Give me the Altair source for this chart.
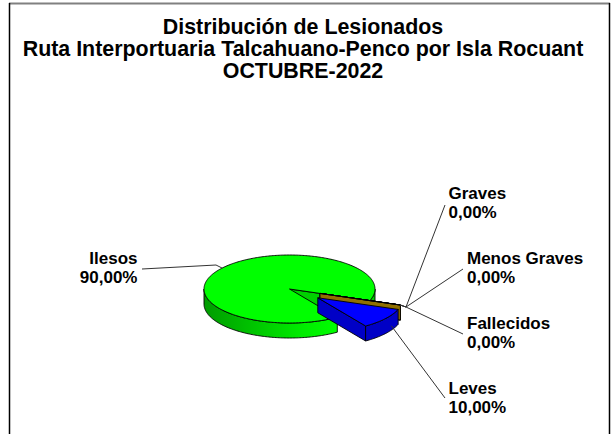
import math
import altair as alt
import pandas as pd

# ---------------- data ----------------
categorias = ["Leves", "Ilesos", "Graves", "Menos Graves", "Fallecidos"]
porcentajes = [10.0, 90.0, 0.0, 0.0, 0.0]
titulo = ["Distribución de Lesionados",
          "Ruta Interportuaria Talcahuano-Penco por Isla Rocuant",
          "OCTUBRE-2022"]

# ---------------- layout / style ----------------
W, H = 614, 434
CX, CY = 289.5, 289.0          # centre of the top ellipse
RA, RB, DEPTH = 85.5, 34.0, 15.0
START = 20.0                   # first slice start angle (deg, clockwise from east)
EXPLODE = {"Leves": 0.42, "Ilesos": 0.0, "Graves": 0.38,
           "Menos Graves": 0.38, "Fallecidos": 0.38}
TOP_COLOR = {"Leves": "#0000FF", "Ilesos": "#00FF00", "Graves": "#B08A00",
             "Menos Graves": "#A88200", "Fallecidos": "#9C7800"}
SIDE_COLOR = {"Leves": "#0000C6", "Ilesos": "#00D000", "Graves": "#A07C00",
              "Menos Graves": "#9A7800", "Fallecidos": "#907000"}
DRAW_ORDER = ["Ilesos", "Graves", "Menos Graves", "Fallecidos", "Leves"]

LABEL_POS = {  # x, baseline of first line, align
    "Ilesos": (137.5, 263.5, "right"),
    "Graves": (448.5, 198.5, "left"),
    "Menos Graves": (467.0, 263.5, "left"),
    "Fallecidos": (467.0, 328.5, "left"),
    "Leves": (448.5, 393.5, "left"),
}
LINE_GAP = 19.0
LEADER = {  # points from label side towards the slice
    "Ilesos": [(142, 269), (216, 265)],
    "Graves": [(445, 205), (406, 307)],
    "Menos Graves": [(463, 269), (406, 307)],
    "Fallecidos": [(463, 334), (406, 307)],
    "Leves": [(445, 398)],
}
ANCHOR = {  # fraction of slice span, depth fraction
    "Ilesos": (0.5, 0.0), "Graves": (0.5, 0.0), "Menos Graves": (0.5, 0.0),
    "Fallecidos": (0.5, 0.0), "Leves": (0.3, 0.7),
}

X = alt.X("x:Q", scale=alt.Scale(domain=[0, W], nice=False, zero=False), axis=None)
Y = alt.Y("y:Q", scale=alt.Scale(domain=[H, 0], nice=False, zero=False), axis=None)

# ---------------- geometry ----------------
total = sum(porcentajes)
slices = {}
t = START
for c, v in zip(categorias, porcentajes):
    span = v / total * 360.0
    mid = t + span / 2
    e = EXPLODE[c]
    off = (RA * e * math.cos(math.radians(mid)), RB * e * math.sin(math.radians(mid)))
    slices[c] = dict(t0=t, t1=t + span, off=off, v=v)
    t += span


def P(tdeg, off, r=1.0, dz=0.0):
    a = math.radians(tdeg)
    return (CX + off[0] + RA * r * math.cos(a), CY + off[1] + RB * r * math.sin(a) + dz)


def arc(t0, t1, off, dz=0.0):
    n = max(2, int(math.ceil(abs(t1 - t0))) + 1)
    return [P(t0 + (t1 - t0) * k / (n - 1), off, 1.0, dz) for k in range(n)]


def poly_layer(pts, fill, stroke="#000000", sw=0.9):
    df = pd.DataFrame({"i": list(range(len(pts))),
                       "x": [p[0] for p in pts], "y": [p[1] for p in pts]})
    return alt.Chart(df).mark_line(
        filled=True, interpolate="linear-closed", fill=fill, stroke=stroke,
        strokeWidth=sw, strokeJoin="round"
    ).encode(x=X, y=Y, order="i:Q")


def line_layer(pts, color="#333333", sw=1.0):
    df = pd.DataFrame({"i": list(range(len(pts))),
                       "x": [p[0] for p in pts], "y": [p[1] for p in pts]})
    return alt.Chart(df).mark_line(color=color, strokeWidth=sw).encode(x=X, y=Y, order="i:Q")


green_grad = alt.Gradient(
    gradient="linear", x1=0, x2=1, y1=0, y2=0,
    stops=[alt.GradientStop(color="#009C00", offset=0),
           alt.GradientStop(color="#00E800", offset=0.7),
           alt.GradientStop(color="#00FF00", offset=1)])

layers = []
for c in DRAW_ORDER:
    s = slices[c]
    t0, t1, off = s["t0"], s["t1"], s["off"]
    apex = P(0, off, 0.0)
    apex_b = P(0, off, 0.0, DEPTH)
    # radial faces facing the viewer
    if math.cos(math.radians(t0)) < 0:
        pts = [apex, P(t0, off), P(t0, off, 1, DEPTH), apex_b]
        layers.append(poly_layer(pts, SIDE_COLOR[c]))
    if math.cos(math.radians(t1)) > 0:
        pts = [apex, P(t1, off), P(t1, off, 1, DEPTH), apex_b]
        layers.append(poly_layer(pts, SIDE_COLOR[c]))
    # outer rim (front half only)
    for k in range(-1, 3):
        lo, hi = max(t0, 360 * k), min(t1, 360 * k + 180)
        if hi - lo > 0.01:
            pts = arc(lo, hi, off, 0.0) + arc(hi, lo, off, DEPTH)
            fill = green_grad if (c == "Ilesos" and hi - lo > 60) else SIDE_COLOR[c]
            layers.append(poly_layer(pts, fill))
    # top face
    if t1 - t0 > 0.01:
        pts = [apex] + arc(t0, t1, off, 0.0)
    else:
        pts = [apex, P(t0, off), apex]
    layers.append(poly_layer(pts, TOP_COLOR[c]))

# leader lines
for c in categorias:
    s = slices[c]
    fr, dzf = ANCHOR[c]
    anchor = P(s["t0"] + (s["t1"] - s["t0"]) * fr, s["off"], 1.0, DEPTH * dzf)
    layers.append(line_layer(LEADER[c] + [anchor]))

# labels
rows = []
for c, v in zip(categorias, porcentajes):
    x, y, al = LABEL_POS[c]
    pct = f"{v / total * 100:.2f}".replace(".", ",") + "%"
    rows.append(dict(txt=c, x=x, y=y, al=al))
    rows.append(dict(txt=pct, x=x, y=y + LINE_GAP, al=al))
lab = pd.DataFrame(rows)
for al in ["left", "right"]:
    layers.append(
        alt.Chart(lab[lab["al"] == al]).mark_text(
            align=al, baseline="alphabetic", font="Liberation Sans",
            fontWeight="bold", fontSize=17, color="#000000"
        ).encode(x=X, y=Y, text="txt:N"))

# title
tdf = pd.DataFrame({"txt": titulo, "x": [303.0] * 3, "y": [33.5, 55.5, 77.5]})
layers.append(
    alt.Chart(tdf).mark_text(
        align="center", baseline="alphabetic", font="Liberation Sans",
        fontWeight="bold", fontSize=21.4, color="#000000"
    ).encode(x=X, y=Y, text="txt:N"))

# frame
frame = alt.Chart(pd.DataFrame({"k": [0]}))
layers.append(frame.mark_rule(color="#808080", strokeWidth=2).encode(
    x=alt.value(9), x2=alt.value(610), y=alt.value(3.5)))
layers.append(frame.mark_rule(color="#000000", strokeWidth=1.5).encode(
    x=alt.value(9.5), y=alt.value(3), y2=alt.value(H)))
layers.append(frame.mark_rule(color="#000000", strokeWidth=1.5).encode(
    x=alt.value(609.5), y=alt.value(3), y2=alt.value(H)))

chart = alt.layer(*layers).properties(
    width=W, height=H, padding=0, autosize=alt.AutoSizeParams(type="none"),
    background="#FFFFFF"
).configure_view(stroke=None)

chart.save("out.html", embed_options={"renderer": "svg", "actions": False})
